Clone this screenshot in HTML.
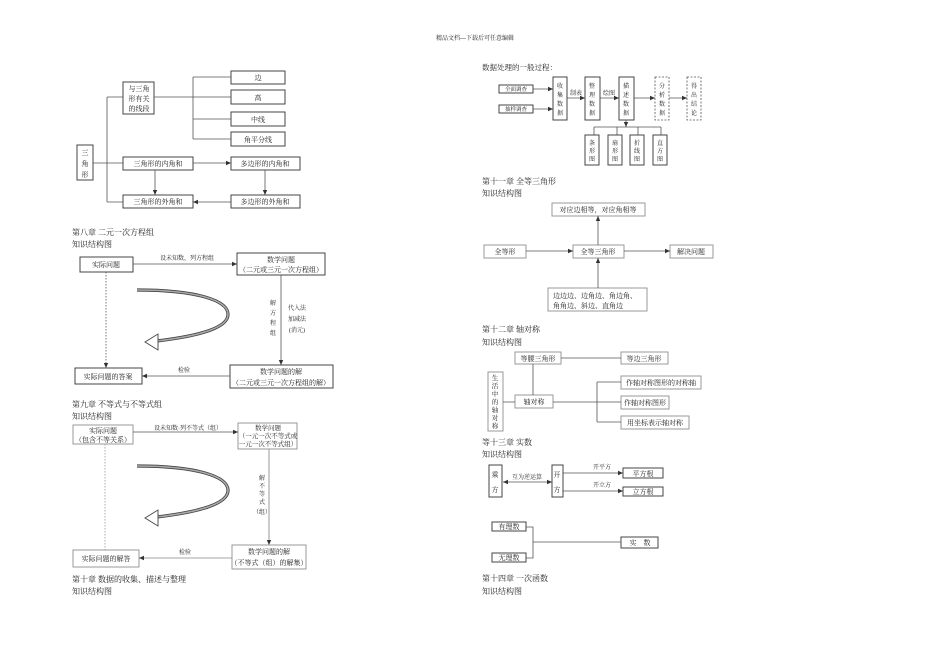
<!DOCTYPE html>
<html><head><meta charset="utf-8">
<style>
html,body{margin:0;padding:0;background:#fff;}
svg{display:block;}
text{font-family:"Liberation Serif","Noto Serif CJK SC","Noto Sans CJK SC",serif;fill:#222;}
.b{fill:#fff;stroke:#444;stroke-width:1;}
.g{fill:#fff;stroke:#999;stroke-width:1;}
.l{stroke:#555;stroke-width:0.8;fill:none;}
.s{font-size:7px;}
.h{font-size:8px;}
</style></head><body>
<svg width="950" height="672" viewBox="0 0 950 672" xmlns="http://www.w3.org/2000/svg">
<defs>
<marker id="a" markerWidth="6" markerHeight="6" refX="5" refY="3" orient="auto" markerUnits="userSpaceOnUse"><path d="M0,0.8 L5,3 L0,5.2z" fill="#333"/></marker>
<marker id="a0" markerWidth="6" markerHeight="6" refX="0" refY="3" orient="auto" markerUnits="userSpaceOnUse"><path d="M5,0.8 L0,3 L5,5.2z" fill="#333"/></marker>
</defs>
<text x="475" y="40" font-size="6" text-anchor="middle">精品文档---下载后可任意编辑</text>

<!-- Chapter 7 triangle -->
<rect class="b" x="77" y="145" width="16" height="35"/>
<text class="s" x="85" y="155" text-anchor="middle">三</text>
<text class="s" x="85" y="166" text-anchor="middle">角</text>
<text class="s" x="85" y="177" text-anchor="middle">形</text>
<rect class="b" x="123" y="82" width="31" height="32"/>
<text class="s" x="139" y="91" text-anchor="middle">与三角</text>
<text class="s" x="139" y="101" text-anchor="middle">形有关</text>
<text class="s" x="139" y="111" text-anchor="middle">的线段</text>
<rect class="b" x="231" y="71" width="54" height="13"/><text class="s" x="258" y="80" text-anchor="middle">边</text>
<rect class="b" x="231" y="90" width="54" height="14"/><text class="s" x="258" y="100" text-anchor="middle">高</text>
<rect class="b" x="231" y="112" width="54" height="14"/><text class="s" x="258" y="122" text-anchor="middle">中线</text>
<rect class="b" x="231" y="132" width="54" height="14"/><text class="s" x="258" y="142" text-anchor="middle">角平分线</text>
<path class="l" d="M154,97 H231 M193,77 V139 M193,77 H231 M193,119 H231 M193,139 H231"/>
<rect class="b" x="123" y="157" width="70" height="13"/><text class="s" x="158" y="166" text-anchor="middle">三角形的内角和</text>
<rect class="b" x="231" y="157" width="69" height="13"/><text class="s" x="265" y="166" text-anchor="middle">多边形的内角和</text>
<rect class="b" x="123" y="195" width="70" height="13"/><text class="s" x="158" y="204" text-anchor="middle">三角形的外角和</text>
<rect class="b" x="231" y="195" width="69" height="13"/><text class="s" x="265" y="204" text-anchor="middle">多边形的外角和</text>
<path class="l" d="M93,163 H123 M107,97 V202 M107,97 H123 M107,202 H123"/>
<path class="l" d="M193,163 H231" marker-end="url(#a)"/>
<path class="l" d="M155,170 V195" marker-end="url(#a)"/>
<path class="l" d="M265,170 V195" marker-end="url(#a)"/>
<path class="l" d="M231,202 H193" marker-end="url(#a)"/>
<text class="h" x="72" y="235">第八章  二元一次方程组</text>
<text class="h" x="72" y="247">知识结构图</text>

<!-- Chapter 8 -->
<rect class="b" x="80" y="257" width="53" height="15"/><text class="s" x="106" y="267" text-anchor="middle">实际问题</text>
<rect class="b" x="237" y="253" width="88" height="22"/>
<text class="s" x="281" y="262" text-anchor="middle">数学问题</text>
<text class="s" x="281" y="272" text-anchor="middle">（二元或三元一次方程组）</text>
<path class="l" d="M133,264 H237" marker-end="url(#a)"/>
<text font-size="6" x="187" y="260" text-anchor="middle">设未知数，列方程组</text>
<path class="l" d="M281,275 V365" marker-end="url(#a)"/>
<text font-size="6" x="273" y="305" text-anchor="middle">解</text>
<text font-size="6" x="273" y="315" text-anchor="middle">方</text>
<text font-size="6" x="273" y="325" text-anchor="middle">程</text>
<text font-size="6" x="273" y="335" text-anchor="middle">组</text>
<text font-size="6" x="297" y="310" text-anchor="middle">代入法</text>
<text font-size="6" x="297" y="321" text-anchor="middle">加减法</text>
<text font-size="6" x="297" y="332" text-anchor="middle">(消元)</text>
<rect class="b" x="230" y="365" width="103" height="23"/>
<text class="s" x="281" y="374" text-anchor="middle">数学问题的解</text>
<text class="s" x="281" y="385" text-anchor="middle">（二元或三元一次方程组的解）</text>
<rect class="b" x="75" y="368" width="67" height="16"/><text class="s" x="108" y="379" text-anchor="middle">实际问题的答案</text>
<path class="l" d="M230,376 H142" marker-end="url(#a)"/>
<text font-size="6" x="184" y="372" text-anchor="middle">检验</text>
<path class="l" d="M106,272 V368" stroke-dasharray="1.5,1.5" marker-end="url(#a)"/>
<g id="curve">
<path d="M137,290 C195,290 229,300 228,315 C227,330 190,337 157,341" fill="none" stroke="#444" stroke-width="3.2"/>
<path d="M137,290 C195,290 229,300 228,315 C227,330 190,337 157,341" fill="none" stroke="#aaa" stroke-width="1.6"/>
<polygon points="145,342 158,334 158,350" fill="#fff" stroke="#444" stroke-width="0.9"/>
</g>
<text class="h" x="72" y="407">第九章  不等式与不等式组</text>
<text class="h" x="72" y="419">知识结构图</text>

<!-- Chapter 9 -->
<rect class="g" x="73" y="425" width="60" height="19"/>
<text class="s" x="103" y="433" text-anchor="middle">实际问题</text>
<text class="s" x="103" y="442" text-anchor="middle">（包含不等关系）</text>
<rect class="g" x="238" y="423" width="59" height="26"/>
<text font-size="6.5" x="268" y="430" text-anchor="middle">数学问题</text>
<text font-size="6.5" x="268" y="438" text-anchor="middle">（一元一次不等式或</text>
<text font-size="6.5" x="268" y="446" text-anchor="middle">一元一次不等式组）</text>
<path class="l" d="M133,432 H238" marker-end="url(#a)"/>
<text font-size="6" x="188" y="430" text-anchor="middle">设未知数·列不等式（组）</text>
<path d="M269,449 V545" stroke="#999" stroke-width="1" fill="none" marker-end="url(#a)"/>
<text font-size="6" x="262" y="480" text-anchor="middle">解</text>
<text font-size="6" x="262" y="488" text-anchor="middle">不</text>
<text font-size="6" x="262" y="496" text-anchor="middle">等</text>
<text font-size="6" x="262" y="504" text-anchor="middle">式</text>
<text font-size="6" x="262" y="514" text-anchor="middle">（组）</text>
<rect class="g" x="232" y="545" width="74" height="24"/>
<text class="s" x="269" y="554" text-anchor="middle">数学问题的解</text>
<text class="s" x="269" y="565" text-anchor="middle">（不等式（组）的解集）</text>
<rect class="g" x="73" y="550" width="66" height="17"/><text class="s" x="106" y="561" text-anchor="middle">实际问题的解答</text>
<path d="M232,558 H139" stroke="#888" stroke-width="0.8" fill="none" marker-end="url(#a)"/>
<text font-size="6" x="185" y="554" text-anchor="middle">检验</text>
<path d="M105,444 V550" stroke="#999" stroke-width="0.8" stroke-dasharray="1.5,1.5" fill="none"/>
<use href="#curve" transform="translate(0,176)"/>
<text class="h" x="72" y="582">第十章  数据的收集、描述与整理</text>
<text class="h" x="72" y="594">知识结构图</text>

<!-- Chapter 10 data -->
<text font-size="7.5" x="482" y="70">数据处理的一般过程：</text>
<rect class="b" x="499" y="85" width="34" height="8"/><text font-size="5.5" x="516" y="91" text-anchor="middle">全面调查</text>
<rect class="b" x="499" y="105" width="34" height="8"/><text font-size="5.5" x="516" y="111" text-anchor="middle">抽样调查</text>
<path class="l" d="M533,89 H553" marker-end="url(#a)"/>
<path class="l" d="M533,109 H553" marker-end="url(#a)"/>
<rect class="b" x="553" y="77" width="14" height="43"/>
<text font-size="6" x="560" y="88" text-anchor="middle">收</text><text font-size="6" x="560" y="97" text-anchor="middle">集</text><text font-size="6" x="560" y="106" text-anchor="middle">数</text><text font-size="6" x="560" y="115" text-anchor="middle">据</text>
<rect class="b" x="585" y="77" width="15" height="43"/>
<text font-size="6" x="592" y="88" text-anchor="middle">整</text><text font-size="6" x="592" y="97" text-anchor="middle">理</text><text font-size="6" x="592" y="106" text-anchor="middle">数</text><text font-size="6" x="592" y="115" text-anchor="middle">据</text>
<rect class="b" x="619" y="77" width="15" height="43"/>
<text font-size="6" x="626" y="88" text-anchor="middle">描</text><text font-size="6" x="626" y="97" text-anchor="middle">述</text><text font-size="6" x="626" y="106" text-anchor="middle">数</text><text font-size="6" x="626" y="115" text-anchor="middle">据</text>
<rect x="655" y="77" width="14" height="43" fill="#fff" stroke="#555" stroke-width="0.8" stroke-dasharray="2,1.5"/>
<text font-size="6" x="662" y="88" text-anchor="middle">分</text><text font-size="6" x="662" y="97" text-anchor="middle">析</text><text font-size="6" x="662" y="106" text-anchor="middle">数</text><text font-size="6" x="662" y="115" text-anchor="middle">据</text>
<rect x="687" y="77" width="14" height="43" fill="#fff" stroke="#555" stroke-width="0.8" stroke-dasharray="2,1.5"/>
<text font-size="6" x="694" y="88" text-anchor="middle">得</text><text font-size="6" x="694" y="97" text-anchor="middle">出</text><text font-size="6" x="694" y="106" text-anchor="middle">结</text><text font-size="6" x="694" y="115" text-anchor="middle">论</text>
<path class="l" d="M567,98 H585" marker-end="url(#a)"/><text font-size="6" x="576" y="95" text-anchor="middle">制表</text>
<path class="l" d="M600,98 H619" marker-end="url(#a)"/><text font-size="6" x="609" y="95" text-anchor="middle">绘图</text>
<path class="l" d="M634,98 H655" marker-end="url(#a)"/>
<path class="l" d="M669,98 H687" marker-end="url(#a)"/>
<path class="l" d="M626,120 V127" marker-end="url(#a)"/>
<path class="l" d="M594,127 H661 M594,127 V135 M617,127 V135 M638,127 V135 M661,127 V135"/>
<rect class="b" x="585" y="135" width="14" height="30"/>
<text font-size="6" x="592" y="145" text-anchor="middle">条</text><text font-size="6" x="592" y="153" text-anchor="middle">形</text><text font-size="6" x="592" y="161" text-anchor="middle">图</text>
<rect class="b" x="608" y="135" width="14" height="30"/>
<text font-size="6" x="615" y="145" text-anchor="middle">扇</text><text font-size="6" x="615" y="153" text-anchor="middle">形</text><text font-size="6" x="615" y="161" text-anchor="middle">图</text>
<rect class="b" x="630" y="135" width="14" height="30"/>
<text font-size="6" x="637" y="145" text-anchor="middle">折</text><text font-size="6" x="637" y="153" text-anchor="middle">线</text><text font-size="6" x="637" y="161" text-anchor="middle">图</text>
<rect class="b" x="653" y="135" width="14" height="30"/>
<text font-size="6" x="660" y="145" text-anchor="middle">直</text><text font-size="6" x="660" y="153" text-anchor="middle">方</text><text font-size="6" x="660" y="161" text-anchor="middle">图</text>
<text class="h" x="482" y="184">第十一章  全等三角形</text>
<text class="h" x="482" y="196">知识结构图</text>

<!-- Chapter 11 -->
<rect class="g" x="552" y="203" width="93" height="13"/><text class="s" x="598" y="212" text-anchor="middle">对应边相等，对应角相等</text>
<rect class="g" x="484" y="245" width="42" height="13"/><text class="s" x="505" y="254" text-anchor="middle">全等形</text>
<rect class="g" x="573" y="245" width="51" height="13"/><text class="s" x="598" y="254" text-anchor="middle">全等三角形</text>
<rect class="g" x="670" y="245" width="43" height="13"/><text class="s" x="691" y="254" text-anchor="middle">解决问题</text>
<rect class="g" x="548" y="288" width="99" height="23"/>
<text class="s" x="553" y="298">边边边、边角边、角边角、</text>
<text class="s" x="553" y="308">角角边、斜边、直角边</text>
<path class="l" d="M526,251 H573" marker-end="url(#a)"/>
<path class="l" d="M624,251 H670" marker-end="url(#a)"/>
<path class="l" d="M598,245 V216" marker-end="url(#a)"/>
<path class="l" d="M598,288 V258" marker-end="url(#a)"/>
<text class="h" x="482" y="332">第十二章  轴对称</text>
<text class="h" x="482" y="345">知识结构图</text>

<!-- Chapter 12 -->
<rect class="g" x="515" y="352" width="46" height="12"/><text class="s" x="538" y="361" text-anchor="middle">等腰三角形</text>
<rect class="g" x="621" y="352" width="47" height="12"/><text class="s" x="644" y="361" text-anchor="middle">等边三角形</text>
<rect class="g" x="488" y="372" width="15" height="59"/>
<text font-size="6.5" x="495" y="380" text-anchor="middle">生</text><text font-size="6.5" x="495" y="388" text-anchor="middle">活</text><text font-size="6.5" x="495" y="396" text-anchor="middle">中</text><text font-size="6.5" x="495" y="404" text-anchor="middle">的</text><text font-size="6.5" x="495" y="412" text-anchor="middle">轴</text><text font-size="6.5" x="495" y="420" text-anchor="middle">对</text><text font-size="6.5" x="495" y="428" text-anchor="middle">称</text>
<rect class="g" x="515" y="395" width="38" height="13"/><text class="s" x="534" y="404" text-anchor="middle">轴对称</text>
<rect class="g" x="621" y="376" width="80" height="13"/><text class="s" x="661" y="385" text-anchor="middle">作轴对称图形的对称轴</text>
<rect class="g" x="621" y="396" width="48" height="13"/><text class="s" x="645" y="405" text-anchor="middle">作轴对称图形</text>
<rect class="g" x="621" y="416" width="68" height="13"/><text class="s" x="655" y="425" text-anchor="middle">用坐标表示轴对称</text>
<path class="l" d="M561,358 H621 M533,364 V395 M503,402 H515 M553,402 H621 M597,382 V422 M597,382 H621 M597,422 H621"/>
<text class="h" x="482" y="445">等十三章  实数</text>
<text class="h" x="482" y="457">知识结构图</text>

<!-- Chapter 13 -->
<rect class="b" x="489" y="465" width="13" height="32"/><text class="s" x="495" y="477" text-anchor="middle">乘</text><text class="s" x="495" y="492" text-anchor="middle">方</text>
<rect class="b" x="552" y="465" width="11" height="32"/><text class="s" x="557" y="477" text-anchor="middle">开</text><text class="s" x="557" y="492" text-anchor="middle">方</text>
<path class="l" d="M503,482 H552" marker-start="url(#a0)" marker-end="url(#a)"/>
<text font-size="6" x="527" y="479" text-anchor="middle">互为逆运算</text>
<rect class="b" x="623" y="468" width="40" height="10"/><text class="s" x="643" y="476" text-anchor="middle">平方根</text>
<rect class="b" x="623" y="487" width="40" height="9"/><text class="s" x="643" y="494" text-anchor="middle">立方根</text>
<path class="l" d="M563,473 H623" marker-end="url(#a)"/><text font-size="6" x="602" y="469" text-anchor="middle">开平方</text>
<path class="l" d="M563,491 H623" marker-end="url(#a)"/><text font-size="6" x="602" y="487" text-anchor="middle">开立方</text>
<rect class="b" x="492" y="522" width="34" height="9"/><text class="s" x="509" y="529" text-anchor="middle">有理数</text>
<rect class="b" x="492" y="553" width="34" height="9"/><text class="s" x="509" y="560" text-anchor="middle">无理数</text>
<rect class="b" x="621" y="537" width="37" height="11"/><text class="s" x="640" y="545" text-anchor="middle">实　数</text>
<path class="l" d="M526,527 H533 V558 H526 M533,542 H621"/>
<text class="h" x="482" y="581">第十四章  一次函数</text>
<text class="h" x="482" y="594">知识结构图</text>
</svg>
</body></html>
